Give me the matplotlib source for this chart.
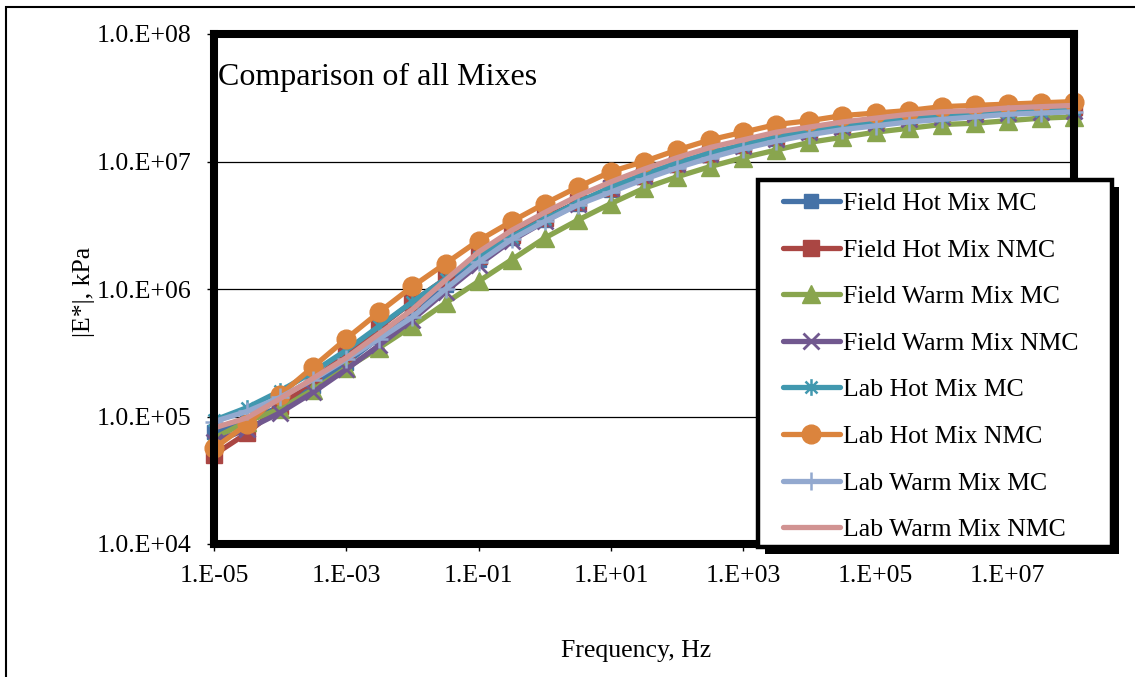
import matplotlib
matplotlib.use("Agg")
import matplotlib.pyplot as plt
import numpy as np
from matplotlib.path import Path
from matplotlib.patches import Rectangle

# ---------------- data ----------------
freq_hz = [1e-5, 3.16e-5, 1e-4, 3.16e-4, 1e-3, 3.16e-3, 1e-2, 3.16e-2, 1e-1, 3.16e-1,
           1.0, 3.16, 10.0, 31.6, 100.0, 316.0, 1e3, 3.16e3, 1e4, 3.16e4,
           1e5, 3.16e5, 1e6, 3.16e6, 1e7, 3.16e7, 1e8]

# log10(|E*|, kPa) read at each frequency
log_E_field_hot_mc = [4.88, 4.96, 5.08, 5.24, 5.42, 5.62, 5.82, 6.03, 6.23, 6.40, 6.54, 6.67, 6.78, 6.88,
                      6.97, 7.05, 7.12, 7.18, 7.23, 7.27, 7.30, 7.33, 7.35, 7.37, 7.38, 7.39, 7.40]
log_E_field_hot_nmc = [4.70, 4.87, 5.08, 5.29, 5.49, 5.70, 5.90, 6.08, 6.26, 6.42, 6.56, 6.68, 6.79, 6.89,
                       6.98, 7.06, 7.13, 7.19, 7.24, 7.28, 7.32, 7.35, 7.37, 7.39, 7.41, 7.42, 7.43]
log_E_field_warm_mc = [4.83, 4.96, 5.06, 5.21, 5.38, 5.54, 5.71, 5.89, 6.06, 6.23, 6.40, 6.54, 6.67, 6.79,
                       6.88, 6.96, 7.03, 7.09, 7.15, 7.19, 7.23, 7.26, 7.29, 7.30, 7.32, 7.34, 7.35]
log_E_field_warm_nmc = [4.80, 4.90, 5.03, 5.19, 5.37, 5.56, 5.76, 5.98, 6.19, 6.38, 6.53, 6.67, 6.79, 6.89,
                        6.98, 7.06, 7.12, 7.18, 7.23, 7.27, 7.30, 7.33, 7.35, 7.37, 7.38, 7.39, 7.40]
log_E_lab_hot_mc = [4.97, 5.07, 5.20, 5.35, 5.52, 5.71, 5.90, 6.08, 6.25, 6.41, 6.55, 6.68, 6.80, 6.90,
                    6.99, 7.07, 7.13, 7.19, 7.24, 7.28, 7.31, 7.34, 7.36, 7.38, 7.39, 7.40, 7.41]
log_E_lab_hot_nmc = [4.75, 4.94, 5.17, 5.39, 5.61, 5.82, 6.02, 6.20, 6.38, 6.53, 6.67, 6.80, 6.92, 7.00,
                     7.09, 7.17, 7.23, 7.29, 7.32, 7.36, 7.38, 7.40, 7.43, 7.44, 7.45, 7.46, 7.47]
log_E_lab_warm_mc = [4.96, 5.04, 5.15, 5.29, 5.45, 5.61, 5.78, 6.00, 6.21, 6.39, 6.53, 6.66, 6.76, 6.86,
                     6.95, 7.03, 7.10, 7.16, 7.21, 7.25, 7.28, 7.31, 7.33, 7.35, 7.37, 7.38, 7.39]
log_E_lab_warm_nmc = [4.91, 4.99, 5.14, 5.30, 5.46, 5.65, 5.84, 6.07, 6.29, 6.46, 6.60, 6.73, 6.84, 6.94,
                      7.03, 7.11, 7.17, 7.23, 7.27, 7.31, 7.34, 7.37, 7.39, 7.40, 7.42, 7.43, 7.44]

series_names = ["Field Hot Mix MC", "Field Hot Mix NMC", "Field Warm Mix MC", "Field Warm Mix NMC",
                "Lab Hot Mix MC", "Lab Hot Mix NMC", "Lab Warm Mix MC", "Lab Warm Mix NMC"]

y_ticks = [1e4, 1e5, 1e6, 1e7, 1e8]
y_tick_labels = ["1.0.E+04", "1.0.E+05", "1.0.E+06", "1.0.E+07", "1.0.E+08"]
x_ticks = [1e-5, 1e-3, 1e-1, 1e1, 1e3, 1e5, 1e7]
x_tick_labels = ["1.E-05", "1.E-03", "1.E-01", "1.E+01", "1.E+03", "1.E+05", "1.E+07"]

title_text = "Comparison of all Mixes"
x_label = "Frequency, Hz"
y_label = "|E*|, kPa"

# ---------------- styling ----------------
plt.rcParams['font.family'] = ['Liberation Serif', 'DejaVu Serif']
FS = 18.5

W, H = 1135, 677
fig = plt.figure(figsize=(W / 100, H / 100), dpi=100)
fig.patch.set_facecolor("white")

def fx(px):
    return px / W

def fy(py):
    return 1 - py / H

# outer chart border
fig.patches.append(Rectangle((fx(6), fy(690)), fx(1140) - fx(6), fy(7) - fy(690),
                             transform=fig.transFigure, fill=False, edgecolor="black",
                             linewidth=1.5, zorder=0))

ax_l, ax_r, ax_t, ax_b = 214, 1074, 34, 544
ax = fig.add_axes([fx(ax_l), fy(ax_b), fx(ax_r) - fx(ax_l), fy(ax_t) - fy(ax_b)])
ax.set_xscale("log")
ax.set_yscale("log")
ax.set_xlim(1e-5, 1e8)
ax.set_ylim(1e4, 1e8)

star_path = Path([(0, -1), (0, 1), (-0.72, -0.72), (0.72, 0.72), (-0.72, 0.72), (0.72, -0.72)],
                 [Path.MOVETO, Path.LINETO, Path.MOVETO, Path.LINETO, Path.MOVETO, Path.LINETO])

colors = ["#4572A7", "#AA4643", "#89A54E", "#71588F", "#4198AF", "#DB843D", "#93A9CF", "#D19392"]
markers = ["s", "s", "^", "x", star_path, "o", "+", None]
msizes = [10, 12, 12.5, 12, 12, 13.5, 13, 0]
mews = [1, 1, 1, 2, 1.8, 1, 1.8, 1]

all_series = [log_E_field_hot_mc, log_E_field_hot_nmc, log_E_field_warm_mc, log_E_field_warm_nmc,
              log_E_lab_hot_mc, log_E_lab_hot_nmc, log_E_lab_warm_mc, log_E_lab_warm_nmc]

handles = []
for name, vals, c, m, ms, mew in zip(series_names, all_series, colors, markers, msizes, mews):
    E = 10 ** np.array(vals)
    h, = ax.plot(freq_hz, E, color=c, linewidth=3.8, marker=m, markersize=ms,
                 markerfacecolor=c, markeredgecolor=c, markeredgewidth=mew,
                 label=name, clip_on=False, solid_capstyle="round", solid_joinstyle="round")
    handles.append(h)

# grid
ax.yaxis.grid(True, which="major", color="black", linewidth=0.9)
ax.xaxis.grid(False)
ax.set_axisbelow(True)

for s in ax.spines.values():
    s.set_linewidth(5.8)
    s.set_color("black")
    s.set_capstyle("projecting")
    s.set_zorder(3)

ax.set_yticks(y_ticks)
ax.set_yticklabels(y_tick_labels)
ax.set_xticks(x_ticks)
ax.set_xticklabels(x_tick_labels)
ax.minorticks_off()
ax.tick_params(axis="both", which="major", direction="out", length=5, width=1,
               labelsize=FS, color="black")
ax.tick_params(axis="y", pad=11)
ax.tick_params(axis="x", pad=10)

# texts
fig.text(fx(218), fy(85), title_text, fontsize=23, ha="left", va="baseline")
fig.text(fx(636), fy(651), x_label, fontsize=FS, ha="center", va="center")
fig.text(fx(84), fy(292), y_label, fontsize=FS, ha="center", va="center", rotation=90)

# legend frame + shadow
lg_l, lg_t, lg_r, lg_b = 758, 180, 1112, 547
sh = 7
fig.patches.append(Rectangle((fx(lg_l + sh), fy(lg_b + sh)), fx(lg_r) - fx(lg_l), fy(lg_t) - fy(lg_b),
                             transform=fig.transFigure, facecolor="black", edgecolor="black",
                             linewidth=0, zorder=4))
fig.patches.append(Rectangle((fx(lg_l), fy(lg_b)), fx(lg_r) - fx(lg_l), fy(lg_t) - fy(lg_b),
                             transform=fig.transFigure, facecolor="white", edgecolor="black",
                             linewidth=3.2, zorder=4.5))

leg = fig.legend(handles=handles, loc="upper left", bbox_to_anchor=(fx(783), fy(192)),
                 bbox_transform=fig.transFigure, frameon=False, fontsize=FS,
                 borderpad=0, borderaxespad=0, handlelength=2.2, handletextpad=0.15,
                 labelspacing=0.92, numpoints=1)
leg.set_zorder(5)

fig.savefig("out.png", dpi=100, facecolor="white")
